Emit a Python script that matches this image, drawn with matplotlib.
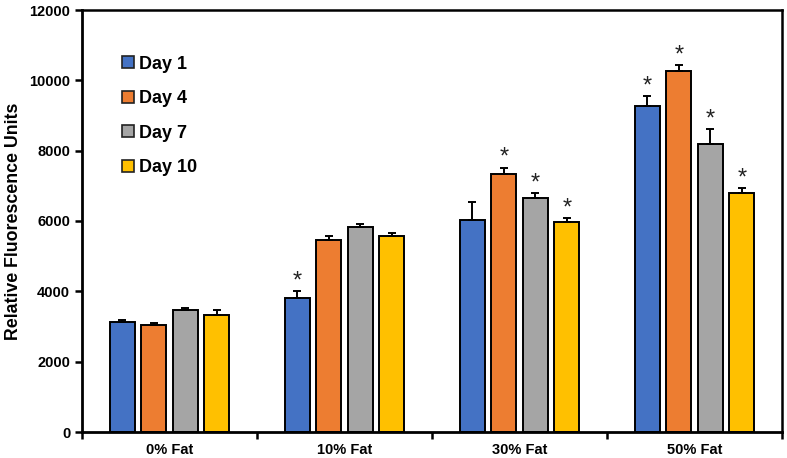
import matplotlib
matplotlib.use("Agg")
import matplotlib.pyplot as plt
import numpy as np
from matplotlib.lines import Line2D

categories = ["0% Fat", "10% Fat", "30% Fat", "50% Fat"]
series = ["Day 1", "Day 4", "Day 7", "Day 10"]
colors = ["#4472C4", "#ED7D31", "#A5A5A5", "#FFC000"]

day1 = [3120, 3810, 6040, 9270]
day4 = [3035, 5450, 7330, 10270]
day7 = [3460, 5830, 6650, 8180]
day10 = [3335, 5560, 5980, 6790]

err1 = [55, 200, 490, 275]
err4 = [60, 130, 190, 170]
err7 = [65, 80, 150, 435]
err10 = [140, 100, 115, 150]

sig1 = [False, True, False, True]
sig4 = [False, False, True, True]
sig7 = [False, False, True, True]
sig10 = [False, False, True, True]

values = [day1, day4, day7, day10]
errors = [err1, err4, err7, err10]
sigs = [sig1, sig4, sig7, sig10]

plt.rcParams['font.family'] = ['Liberation Sans', 'DejaVu Sans']
plt.rcParams['font.weight'] = 'bold'

fig = plt.figure(figsize=(7.87, 4.58), dpi=100)
ax = fig.add_axes([82/787, 26/458, 700/787, 422/458])

x = np.arange(len(categories))
pitch = 0.18
width = 0.145
for i, (vals, errs, sg) in enumerate(zip(values, errors, sigs)):
    pos = x + (i - 1.5) * pitch
    ax.bar(pos, vals, width=width, color=colors[i], edgecolor="black",
           linewidth=1.4, zorder=2, label=series[i])
    ax.errorbar(pos, vals, yerr=[np.zeros(len(vals)), errs], fmt="none",
                ecolor="black", elinewidth=1.4, capsize=3, capthick=1.4, zorder=3)
    for p, v, e, s in zip(pos, vals, errs, sg):
        if s:
            ax.annotate("*", (p, v + e), xytext=(0, -1), textcoords="offset points",
                        ha="center", va="bottom", fontsize=17, fontweight="normal",
                        color="#222222")

ax.set_xlim(-0.5, 3.5)
ax.set_ylim(0, 12000)
ax.set_yticks(np.arange(0, 12001, 2000))
ax.set_xticks(x)
ax.set_xticklabels(categories, fontsize=10.5, fontweight="bold")
ax.set_xticks(np.arange(-0.5, 3.6, 1), minor=True)
ax.tick_params(axis="x", which="major", length=0, pad=8)
ax.tick_params(axis="x", which="minor", length=5, width=1.8, direction="out")
ax.tick_params(axis="y", length=5, width=1.8, direction="out", labelsize=10.5)
for lab in ax.get_yticklabels():
    lab.set_fontweight("bold")
ax.set_ylabel("Relative Fluorescence Units", fontsize=12.8, fontweight="bold", labelpad=5)

for side in ["left", "bottom"]:
    ax.spines[side].set_linewidth(2)
for side in ["top", "right"]:
    ax.spines[side].set_linewidth(1.8)

handles = [Line2D([0], [0], marker="s", linestyle="none", markersize=8,
                  markerfacecolor=c, markeredgecolor="#222222", markeredgewidth=1.2)
           for c in colors]
leg = ax.legend(handles, series, loc="upper left", bbox_to_anchor=(0.03, 0.93),
                frameon=False, labelspacing=0.97, handletextpad=0.1,
                handlelength=1.0, prop={"size": 13, "weight": "bold"})

fig.savefig("out.png", dpi=100)
